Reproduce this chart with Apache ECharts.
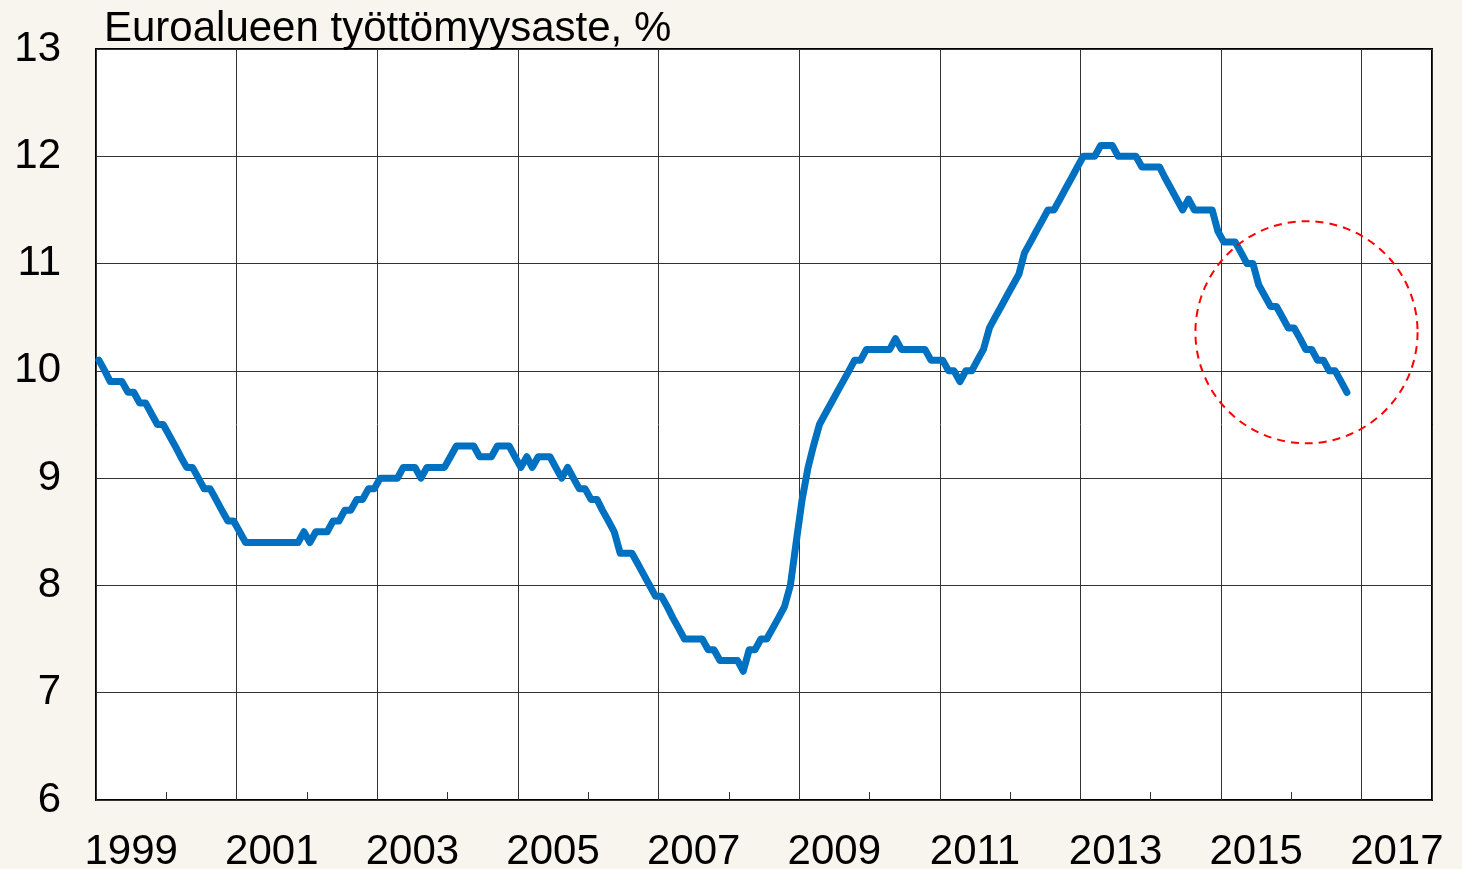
<!DOCTYPE html>
<html>
<head>
<meta charset="utf-8">
<script src="https://cdn.jsdelivr.net/npm/echarts@6/dist/echarts.min.js"></script>
<style>
html,body{margin:0;padding:0;background:#F8F4EE;}
#chart{width:1462px;height:869px;}
</style>
</head>
<body>
<div id="chart"></div>
<script>
// ---- data ----
const titleText = 'Euroalueen työttömyysaste, %';
const years = ['1999','2000','2001','2002','2003','2004','2005','2006','2007','2008','2009','2010','2011','2012','2013','2014','2015','2016','2017'];
const firstYear = 1999;
// monthly unemployment rate, Jan 1999 ... Oct 2016
const unemployment = [
  10.1,10.0,9.9,9.9,9.9,9.8,9.8,9.7,9.7,9.6,9.5,9.5,
  9.4,9.3,9.2,9.1,9.1,9.0,8.9,8.9,8.8,8.7,8.6,8.6,
  8.5,8.4,8.4,8.4,8.4,8.4,8.4,8.4,8.4,8.4,8.4,8.5,
  8.4,8.5,8.5,8.5,8.6,8.6,8.7,8.7,8.8,8.8,8.9,8.9,
  9.0,9.0,9.0,9.0,9.1,9.1,9.1,9.0,9.1,9.1,9.1,9.1,
  9.2,9.3,9.3,9.3,9.3,9.2,9.2,9.2,9.3,9.3,9.3,9.2,
  9.1,9.2,9.1,9.2,9.2,9.2,9.1,9.0,9.1,9.0,8.9,8.9,
  8.8,8.8,8.7,8.6,8.5,8.3,8.3,8.3,8.2,8.1,8.0,7.9,
  7.9,7.8,7.7,7.6,7.5,7.5,7.5,7.5,7.4,7.4,7.3,7.3,
  7.3,7.3,7.2,7.4,7.4,7.5,7.5,7.6,7.7,7.8,8.0,8.4,
  8.8,9.1,9.3,9.5,9.6,9.7,9.8,9.9,10.0,10.1,10.1,10.2,
  10.2,10.2,10.2,10.2,10.3,10.2,10.2,10.2,10.2,10.2,10.1,10.1,
  10.1,10.0,10.0,9.9,10.0,10.0,10.1,10.2,10.4,10.5,10.6,10.7,
  10.8,10.9,11.1,11.2,11.3,11.4,11.5,11.5,11.6,11.7,11.8,11.9,
  12.0,12.0,12.0,12.1,12.1,12.1,12.0,12.0,12.0,12.0,11.9,11.9,
  11.9,11.9,11.8,11.7,11.6,11.5,11.6,11.5,11.5,11.5,11.5,11.3,
  11.2,11.2,11.2,11.1,11.0,11.0,10.8,10.7,10.6,10.6,10.5,10.4,
  10.4,10.3,10.2,10.2,10.1,10.1,10.0,10.0,9.9,9.8
];
const yMin = 6, yMax = 13, yStep = 1;
// highlight circle annotation (centre date, centre value, radius in days)
const circleCenter = ['2016-03-20', 10.36];
const circleRadiusDays = 577;

// ---- chart ----
const FONT = '"Liberation Sans", Arial, sans-serif';
const lineData = unemployment.map((v, i) => [Date.UTC(firstYear, i, 16), v]);
const circleData = [[Date.parse(circleCenter[0]), circleCenter[1]]];

const chart = echarts.init(document.getElementById('chart'));
chart.setOption({
  backgroundColor: '#F8F4EE',
  animation: false,
  title: {
    text: titleText,
    left: 99,
    top: 3,
    textStyle: {fontFamily: FONT, fontSize: 42, fontWeight: 'normal', color: '#000'}
  },
  grid: {
    left: 96, right: 30, top: 49, bottom: 69,
    containLabel: false,
    outerBoundsMode: 'none',
    show: true, backgroundColor: '#fff', borderColor: '#000', borderWidth: 2
  },
  xAxis: [
    {
      type: 'category',
      data: years,
      boundaryGap: true,
      position: 'bottom',
      axisLine: {show: false},
      axisTick: {show: true, interval: 0, inside: true, length: 8, alignWithLabel: false, lineStyle: {color: '#333', width: 1}},
      axisLabel: {interval: 1, margin: 31, fontFamily: FONT, fontSize: 42, color: '#000'},
      splitLine: {show: true, interval: 1, lineStyle: {color: '#333', width: 1}}
    },
    {
      type: 'time',
      show: false,
      min: Date.UTC(firstYear, 0, 1),
      max: Date.UTC(firstYear + years.length, 0, 1)
    }
  ],
  yAxis: {
    type: 'value',
    min: yMin, max: yMax, interval: yStep,
    axisLine: {show: false},
    axisTick: {show: false},
    axisLabel: {margin: 35, fontFamily: FONT, fontSize: 42, color: '#000'},
    splitLine: {show: true, lineStyle: {color: '#333', width: 1}}
  },
  series: [
    {
      type: 'line',
      xAxisIndex: 1,
      yAxisIndex: 0,
      data: lineData,
      showSymbol: false,
      symbol: 'none',
      lineStyle: {color: '#0070C0', width: 7, cap: 'round', join: 'round'},
      z: 5
    },
    {
      type: 'custom',
      xAxisIndex: 1,
      yAxisIndex: 0,
      data: circleData,
      clip: false,
      z: 6,
      renderItem: function (params, api) {
        const c = api.coord([api.value(0), api.value(1)]);
        const r = api.size([circleRadiusDays * 86400000, 0])[0];
        return {
          type: 'circle',
          shape: {cx: c[0], cy: c[1], r: r},
          style: {fill: 'none', stroke: '#FF0000', lineWidth: 2, lineDash: [8, 6]}
        };
      }
    }
  ]
});
</script>
</body>
</html>
